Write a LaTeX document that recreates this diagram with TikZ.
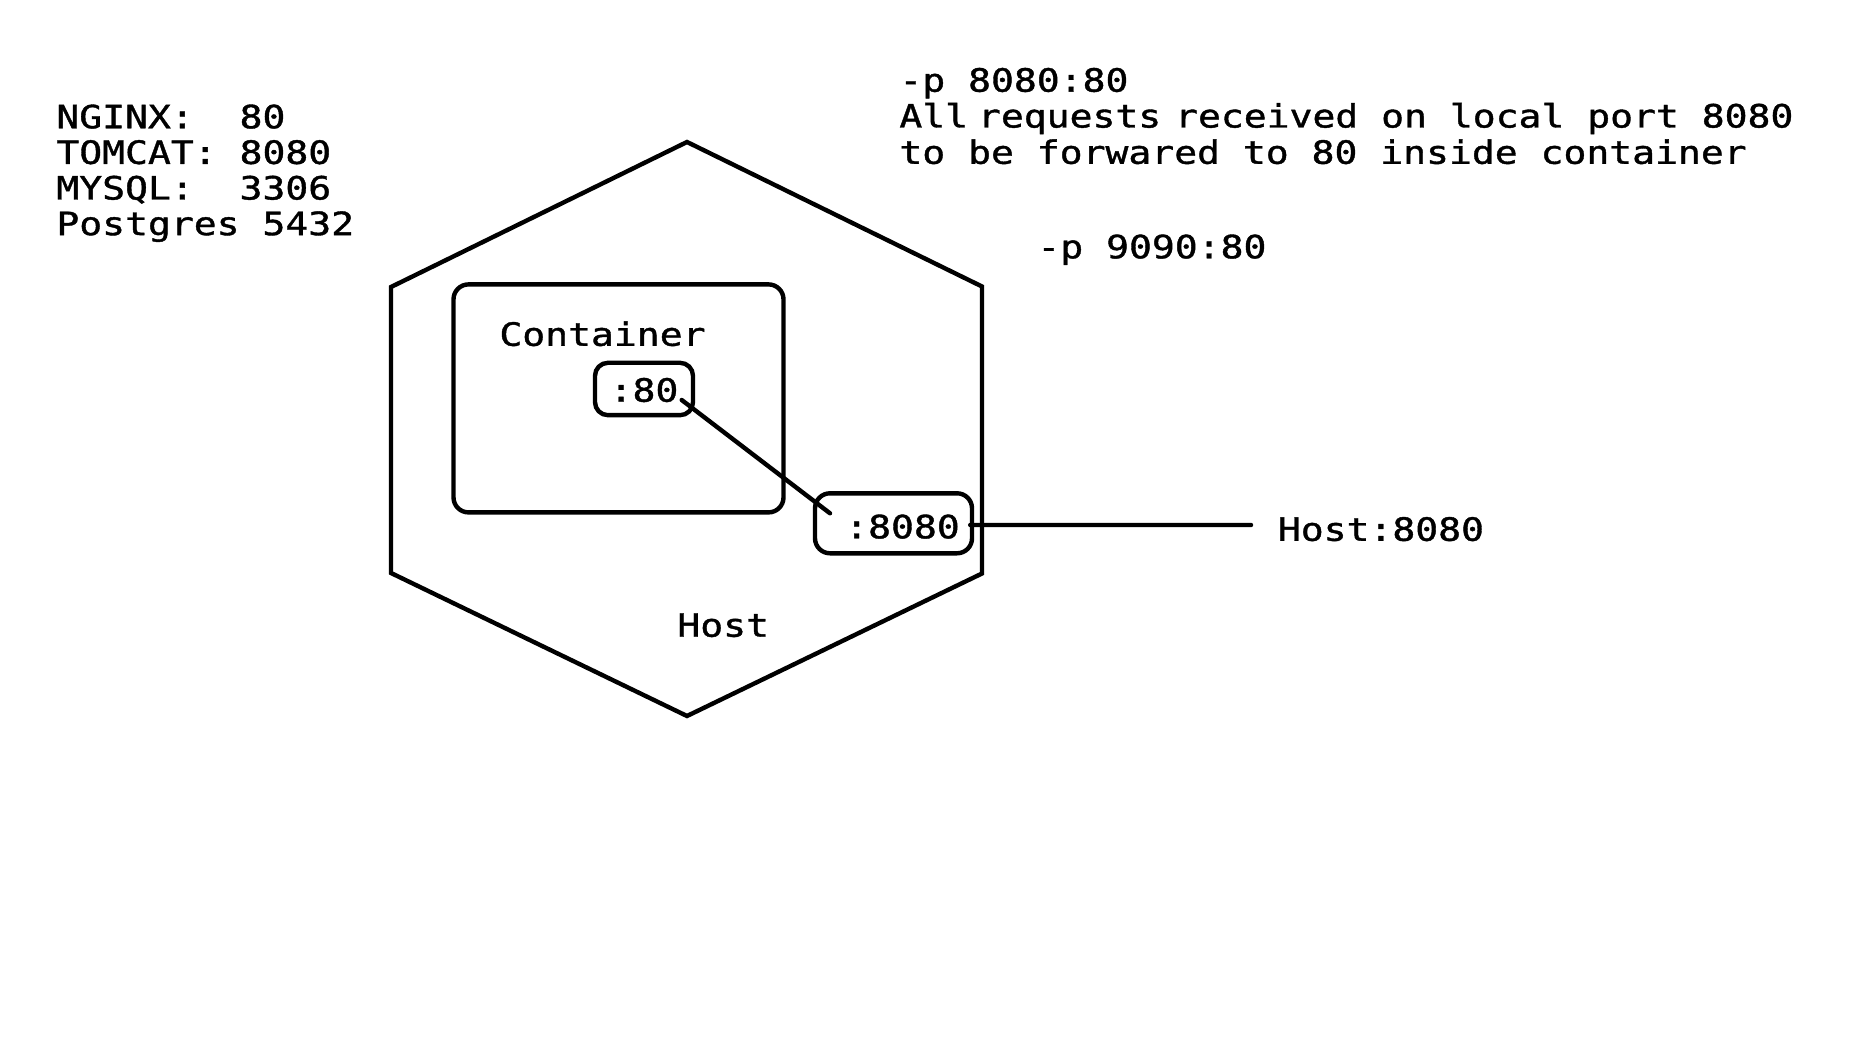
\documentclass[tikz,border=0pt]{standalone}
\usepackage{fontspec}
\newfontfamily\dmono{DejaVu Sans Mono}[FakeStretch=1.185,FakeBold=1.2]
\begin{document}
\begin{tikzpicture}[x=0.5pt,y=-0.5pt,
  txt/.style={inner sep=0pt,anchor=base west,font=\dmono\fontsize{16.05}{19}\selectfont},
  edge/.style={line width=2.2pt,line join=miter},
  portbox/.style={draw,line width=2.2pt,rounded corners=6.5pt,inner sep=0pt,font=\dmono\fontsize{16.05}{19}\selectfont},
  conn/.style={line width=2.2pt,line cap=round}]
\useasboundingbox (0,0) rectangle (1866,1058);
\fill[white] (0,0) rectangle (1866,1058);
% left list
\node[txt] (l1) at (56,128.3) {NGINX:~~80};
\node[txt] (l2) at (56,163.9) {TOMCAT:~8080};
\node[txt] (l3) at (56,199.5) {MYSQL:~~3306};
\node[txt] (l4) at (56,235.1) {Postgres~5432};
% right notes
\node[txt] (r1) at (899,91.7) {-p 8080:80};
\node[txt] (r2) at (899,127.5) {All\kern-6.5pt\ requests\kern-4.5pt\ received on local port 8080};
\node[txt] (r3) at (899,163.8) {to be forwared to 80 inside container};
\node[txt] (r4) at (1037,258.3) {-p 9090:80};
% host hexagon
\draw[edge] (687,142) -- (982,286.5) -- (982,573.5) -- (687,716) -- (391,573) -- (391,287) -- cycle;
\node[txt] (host) at (677,636.7) {Host};
% container
\node[draw,line width=2.2pt,rounded corners=7.5pt,minimum width=165pt,minimum height=114pt,inner sep=0pt] (cont) at (618.5,398.4) {};
\node[txt] (ctext) at (499,345.8) {Container};
% ports
\node[portbox,minimum width=49pt,minimum height=26.2pt,text height=12.7pt,text depth=0pt] (p80) at (644,389) {:80};
\node[portbox,rounded corners=7.5pt,minimum width=78.5pt,minimum height=30pt,text height=15pt,text depth=0pt] (p8080) at (893.5,523.3) {\hspace*{9pt}:8080};
\node[txt] (hp) at (1277.5,540.8) {Host:8080};
\coordinate (hend) at (1251,525);
% connectors
\draw[conn] ([shift={(37.7,11)}]p80.center) -- ([shift={(-63.5,-10)}]p8080.center);
\draw[conn] ([shift={(-4,1.7)}]p8080.east) -- (hend);
\end{tikzpicture}
\end{document}
